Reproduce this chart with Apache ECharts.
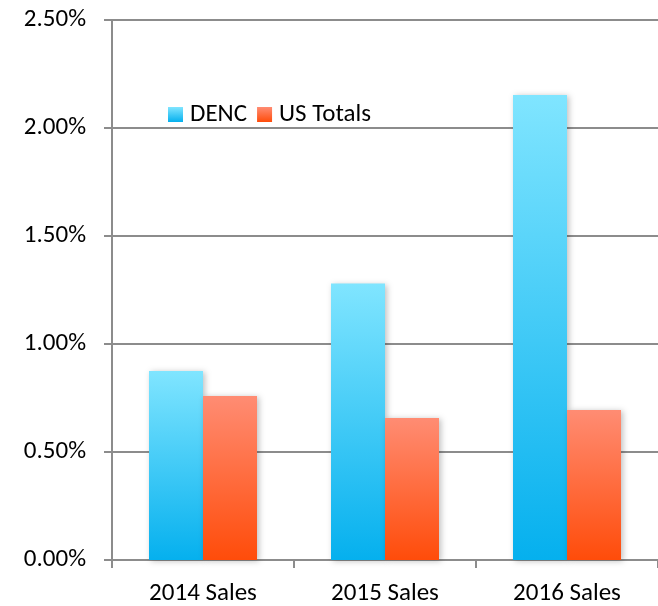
<!DOCTYPE html>
<html>
<head>
<meta charset="utf-8">
<script src="https://cdn.jsdelivr.net/npm/echarts@6/dist/echarts.min.js"></script>
<style>
  html, body { margin: 0; padding: 0; background: #fff; }
  #chart { width: 658px; height: 606px; }
</style>
</head>
<body>
<div id="chart"></div>
<script>
// data (percent)
const categories = ['2014 Sales', '2015 Sales', '2016 Sales'];
const dencValues = [0.875, 1.28, 2.153];
const usValues = [0.759, 0.657, 0.694];
const yTicks = [0, 0.5, 1, 1.5, 2, 2.5];

const font = 'Carlito, Lato, sans-serif';

function grad(top, bottom) {
    return new echarts.graphic.LinearGradient(0, 0, 0, 1, [
        { offset: 0, color: top },
        { offset: 1, color: bottom }
    ]);
}

const options = {
    animation: false,
    textStyle: { fontFamily: font },
    legend: {
        left: 163,
        top: 97,
        itemWidth: 15,
        itemHeight: 15,
        itemGap: 10,
        icon: 'rect',
        textStyle: { fontSize: 25, color: '#000', fontFamily: font, padding: [0, 0, 0, 2] },
        data: ['DENC', 'US Totals']
    },
    grid: { left: 112, right: -6, top: 20, bottom: 46 },
    xAxis: {
        type: 'category',
        data: categories,
        axisLine: { lineStyle: { color: '#8c8c8c', width: 2 } },
        axisTick: { show: true, length: 8, lineStyle: { color: '#8c8c8c', width: 2 } },
        axisLabel: { color: '#000', fontSize: 25, margin: 21, fontFamily: font }
    },
    yAxis: {
        type: 'value',
        min: 0,
        max: yTicks[yTicks.length - 1],
        interval: 0.5,
        axisLine: { show: true, lineStyle: { color: '#8c8c8c', width: 2 } },
        axisTick: { show: true, length: 8, lineStyle: { color: '#8c8c8c', width: 2 } },
        splitLine: { lineStyle: { color: '#8c8c8c', width: 2 } },
        axisLabel: {
            color: '#000', fontSize: 25, margin: 26, fontFamily: font,
            formatter: v => v.toFixed(2) + '%'
        }
    },
    series: [
        {
            name: 'DENC',
            type: 'bar',
            barWidth: 54,
            barGap: '0%',
            data: dencValues,
            itemStyle: {
                color: grad('#80E5FF', '#05B0EE'),
                shadowBlur: 6,
                shadowOffsetX: 2,
                shadowOffsetY: 1,
                shadowColor: 'rgba(0,0,0,0.25)'
            }
        },
        {
            name: 'US Totals',
            type: 'bar',
            barWidth: 54,
            barGap: '0%',
            data: usValues,
            itemStyle: {
                color: grad('#FF8C73', '#FF4C0A'),
                shadowBlur: 6,
                shadowOffsetX: 2,
                shadowOffsetY: 1,
                shadowColor: 'rgba(0,0,0,0.25)'
            }
        }
    ]
};

const E = echarts.init(document.getElementById('chart'));
E.setOption(options);
</script>
</body>
</html>
